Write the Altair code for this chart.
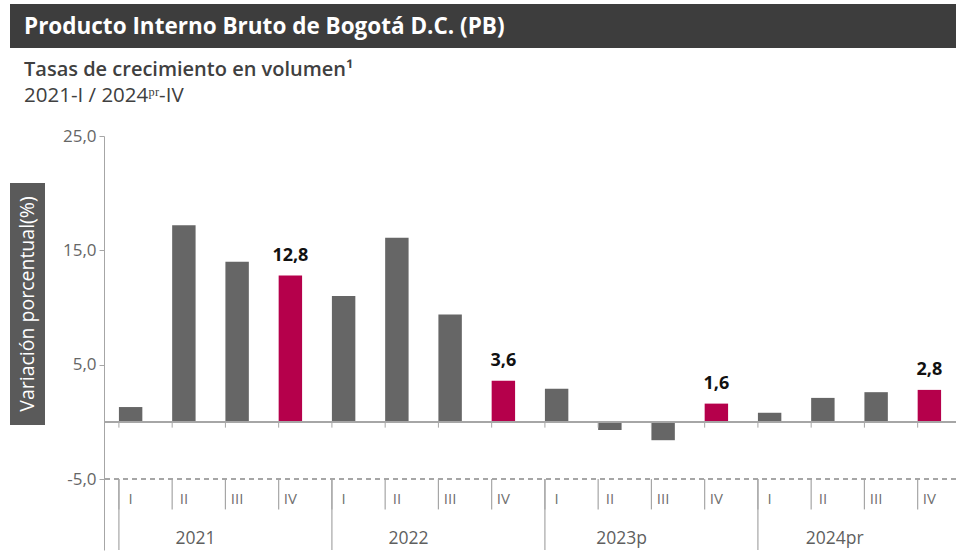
import altair as alt
import pandas as pd

years = ["2021", "2022", "2023p", "2024pr"]
quarters = ["I", "II", "III", "IV"]
values = [1.3, 17.2, 14.0, 12.8,
          11.0, 16.1, 9.4, 3.6,
          2.9, -0.7, -1.6, 1.6,
          0.8, 2.1, 2.6, 2.8]

title_text = "Producto Interno Bruto de Bogotá D.C. (PB)"
subtitle1 = "Tasas de crecimiento en volumen¹"
subtitle2 = "2021-I / 2024ᵖʳ-IV"
ytitle = "Variación porcentual(%)"
y_ticks = [-5, 5, 15, 25]

rows = []
i = 0
for y in years:
    for q in quarters:
        v = values[i]
        rows.append({
            "cat": f"{y}-{q}", "year": y, "quarter": q, "value": v,
            "hl": q == "IV",
            "label": f"{v:.1f}".replace(".", ","),
        })
        i += 1
df = pd.DataFrame(rows)
cats = list(df["cat"])

W, H = 852, 414
FONT = "Open Sans"
GRAY_BAR = "#666666"
RED = "#b5004b"
LINE = "#a6a6a6"

xs = alt.Scale(domain=cats, paddingInner=0.56, paddingOuter=0.28)
ys = alt.Scale(domain=[-11.2, 25], nice=False, zero=False)

X = alt.X("cat:N", scale=xs, sort=cats, axis=None)
Xb = alt.X("cat:N", scale=xs, sort=cats, axis=None, bandPosition=0)

base = alt.Chart(df)

bars = base.mark_bar().encode(
    x=X,
    y=alt.Y("value:Q", scale=ys, title=None,
            axis=alt.Axis(values=y_ticks, grid=False, domainColor=LINE,
                          tickColor=LINE, tickSize=5, labelPadding=3,
                          labelFontSize=17, labelColor="#666666", labelFont=FONT,
                          labelExpr="replace(replace(format(datum.value, '.1f'), '.', ','), '−', '-')")),
    color=alt.condition(alt.datum.hl, alt.value(RED), alt.value(GRAY_BAR)),
)

labels = base.transform_filter(alt.datum.hl).mark_text(
    dy=-11, fontWeight="bold", fontSize=18, font=FONT, color="#111111", baseline="bottom"
).encode(x=X, y=alt.Y("value:Q", scale=ys), text="label:N")

zero_line = base.mark_rule(color=LINE, strokeWidth=1.2).encode(y=alt.datum(0))
zero_ticks = base.mark_rule(color=LINE).encode(
    x=Xb, y=alt.datum(0), y2=alt.datum(-0.5))

dash_line = base.mark_rule(color=LINE, strokeDash=[5, 4]).encode(y=alt.datum(-5))

q_sep = base.mark_rule(color=LINE, strokeWidth=1.2).encode(
    x=Xb, y=alt.datum(-5), y2=alt.datum(-7.65))
q_lab = base.mark_text(fontSize=15, font=FONT, baseline="middle").encode(
    x=X, y=alt.datum(-6.75), text="quarter:N", color=alt.value("#707070"))

first_q = base.transform_filter(alt.datum.quarter == "I")
y_sep = first_q.mark_rule(color=LINE, strokeWidth=1.2).encode(
    x=Xb, y=alt.datum(-5), y2=alt.datum(-11.2))
y_lab_df = df[df["quarter"] == "II"]
y_lab = alt.Chart(y_lab_df).mark_text(fontSize=17.5, font=FONT, color="#5f5f5f",
                                      baseline="middle").encode(
    x=alt.X("cat:N", scale=xs, sort=cats, axis=None, bandPosition=1),
    y=alt.datum(-10.25), text="year:N")

one = pd.DataFrame({"t": [title_text], "s1": [subtitle1], "s2": [subtitle2], "yt": [ytitle]})
deco = alt.Chart(one)
title_bg = deco.mark_rect(color="#3d3d3d").encode(
    x=alt.value(-94), x2=alt.value(W), y=alt.value(-132), y2=alt.value(-88))
title_tx = deco.mark_text(align="left", baseline="middle", color="white", fontSize=22.5,
                          fontWeight="bold", font=FONT).encode(
    x=alt.value(-80), y=alt.value(-109), text="t:N")
sub1 = deco.mark_text(align="left", baseline="middle", color="#404040", fontSize=20,
                      fontWeight=600, font=FONT).encode(
    x=alt.value(-80), y=alt.value(-66), text="s1:N")
sub2 = deco.mark_text(align="left", baseline="middle", color="#404040", fontSize=20.5,
                      font=FONT).encode(
    x=alt.value(-80), y=alt.value(-40), text="s2:N")
yt_bg = deco.mark_rect(color="#5a5a5a").encode(
    x=alt.value(-94), x2=alt.value(-59), y=alt.value(47), y2=alt.value(289))
yt_tx = deco.mark_text(align="center", baseline="middle", color="white", fontSize=19.5,
                       angle=270, font=FONT).encode(
    x=alt.value(-76), y=alt.value(168), text="yt:N")

chart = alt.layer(
    dash_line, q_sep, y_sep, q_lab, y_lab, bars, zero_line, zero_ticks, labels,
    title_bg, title_tx, sub1, sub2, yt_bg, yt_tx,
).properties(
    width=W, height=H,
    background="white",
    autosize=alt.AutoSizeParams(type="none"),
    padding={"left": 104, "top": 136, "right": 0, "bottom": 4},
).configure_view(strokeWidth=0, stroke="transparent")

chart.save("out.html", embed_options={"renderer": "svg", "actions": False})
